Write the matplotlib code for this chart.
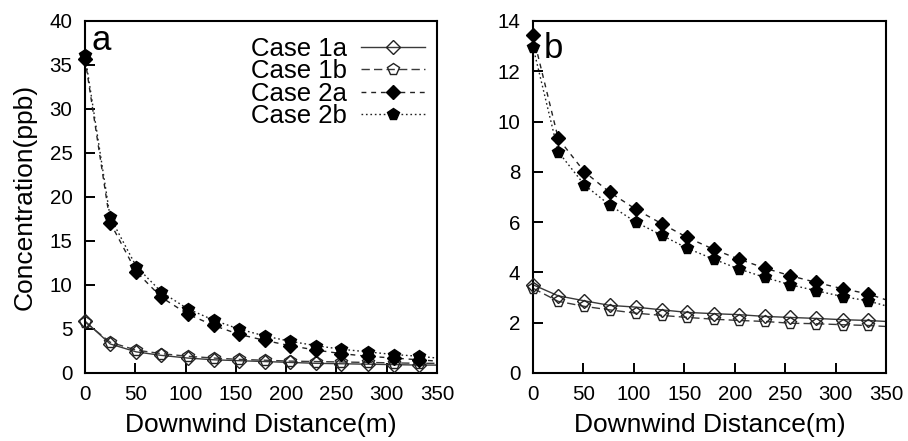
import matplotlib
matplotlib.use("Agg")
import matplotlib.pyplot as plt

plt.rcParams['font.family'] = ['Liberation Sans', 'DejaVu Sans']

# Downwind sampling distances (m)
dist = [0, 25, 51, 76, 102, 128, 153, 179, 204, 230, 255, 281, 307, 332]
# curves are continued to the right edge of the plot
dist_end = 350

# Panel a concentrations (ppb)
a_case1a = [5.9, 3.3, 2.4, 2.0, 1.7, 1.5, 1.4, 1.3, 1.2, 1.1, 1.05, 1.0, 0.95, 0.9]
a_case1b = [5.8, 3.5, 2.6, 2.2, 1.9, 1.7, 1.55, 1.45, 1.35, 1.3, 1.25, 1.2, 1.15, 1.1]
a_case2a = [35.7, 17.1, 11.5, 8.6, 6.7, 5.4, 4.4, 3.7, 3.1, 2.6, 2.2, 1.9, 1.7, 1.5]
a_case2b = [36.1, 17.7, 12.1, 9.2, 7.3, 6.0, 5.0, 4.2, 3.6, 3.1, 2.7, 2.4, 2.1, 1.9]
a_end = {'1a': 0.9, '1b': 1.1, '2a': 1.35, '2b': 1.7}

# Panel b concentrations (ppb)
b_case1a = [3.51, 3.07, 2.87, 2.69, 2.62, 2.51, 2.41, 2.36, 2.32, 2.25, 2.21, 2.17, 2.12, 2.09]
b_case1b = [3.37, 2.85, 2.65, 2.51, 2.38, 2.29, 2.21, 2.14, 2.09, 2.05, 1.98, 1.96, 1.92, 1.89]
b_case2a = [13.43, 9.33, 8.0, 7.19, 6.51, 5.93, 5.39, 4.92, 4.53, 4.17, 3.87, 3.6, 3.35, 3.15]
b_case2b = [12.97, 8.8, 7.48, 6.68, 6.0, 5.47, 4.96, 4.53, 4.14, 3.8, 3.51, 3.27, 3.04, 2.87]
b_end = {'1a': 2.05, '1b': 1.85, '2a': 2.91, '2b': 2.67}

labels = ['Case 1a', 'Case 1b', 'Case 2a', 'Case 2b']
keys = ['1a', '1b', '2a', '2b']
x_ticks = [0, 50, 100, 150, 200, 250, 300, 350]

styles = {
    '1a': dict(line=dict(ls='-', color='#3a3a3a', lw=1.0),
               mk=dict(marker='D', ms=6.8, mfc='none', mec='#222222', mew=1.0)),
    '1b': dict(line=dict(ls=(0, (6, 3)), color='#3a3a3a', lw=1.0),
               mk=dict(marker='p', ms=8.5, mfc='none', mec='#222222', mew=1.0)),
    '2a': dict(line=dict(ls=(0, (3.5, 3.5)), color='#222222', lw=1.0),
               mk=dict(marker='D', ms=6.8, mfc='black', mec='black', mew=1.0)),
    '2b': dict(line=dict(ls=(0, (1.2, 2.0)), color='#222222', lw=1.0),
               mk=dict(marker='p', ms=8.5, mfc='black', mec='black', mew=1.0)),
}

fig = plt.figure(figsize=(9.08, 4.41), dpi=100)
ax_a = fig.add_axes([0.0936, 0.1542, 0.3877, 0.7982])
ax_b = fig.add_axes([0.5870, 0.1542, 0.3888, 0.7982])


def draw(ax, series, ends):
    handles = []
    for key, lab, ys in zip(keys, labels, series):
        st = styles[key]
        ax.plot(dist + [dist_end], ys + [ends[key]], **st['line'], zorder=2)
        ax.plot(dist, ys, ls='none', **st['mk'], zorder=3, clip_on=False)
        h, = ax.plot([], [], **st['line'], **st['mk'], label=lab)
        handles.append(h)
    return handles


def style_axes(ax, ymax, ystep):
    ax.set_xlim(0, 350)
    ax.set_ylim(0, ymax)
    ax.set_xticks(x_ticks)
    ax.set_yticks(list(range(0, ymax + 1, ystep)))
    ax.tick_params(axis='both', direction='in', length=7, width=1.4,
                   labelsize=14.8, top=False, right=False)
    ax.tick_params(axis='x', pad=9)
    ax.tick_params(axis='y', pad=9)
    for sp in ax.spines.values():
        sp.set_linewidth(1.5)
    ax.set_xlabel('Downwind Distance(m)', fontsize=19, labelpad=6)


handles = draw(ax_a, [a_case1a, a_case1b, a_case2a, a_case2b], a_end)
style_axes(ax_a, 40, 5)
ax_a.set_ylabel('Concentration(ppb)', fontsize=19, labelpad=9)
ax_a.text(0.018, 0.918, 'a', transform=ax_a.transAxes, fontsize=25,
          ha='left', va='baseline')
ax_a.legend(handles=handles, loc='upper right', bbox_to_anchor=(1.018, 1.005),
            frameon=False, markerfirst=False, fontsize=18.5, handlelength=2.5,
            handletextpad=0.55, labelspacing=-0.07, borderpad=0.2)

draw(ax_b, [b_case1a, b_case1b, b_case2a, b_case2b], b_end)
style_axes(ax_b, 14, 2)
ax_b.text(0.03, 0.895, 'b', transform=ax_b.transAxes, fontsize=25,
          ha='left', va='baseline')

fig.savefig('out.png', dpi=100)
